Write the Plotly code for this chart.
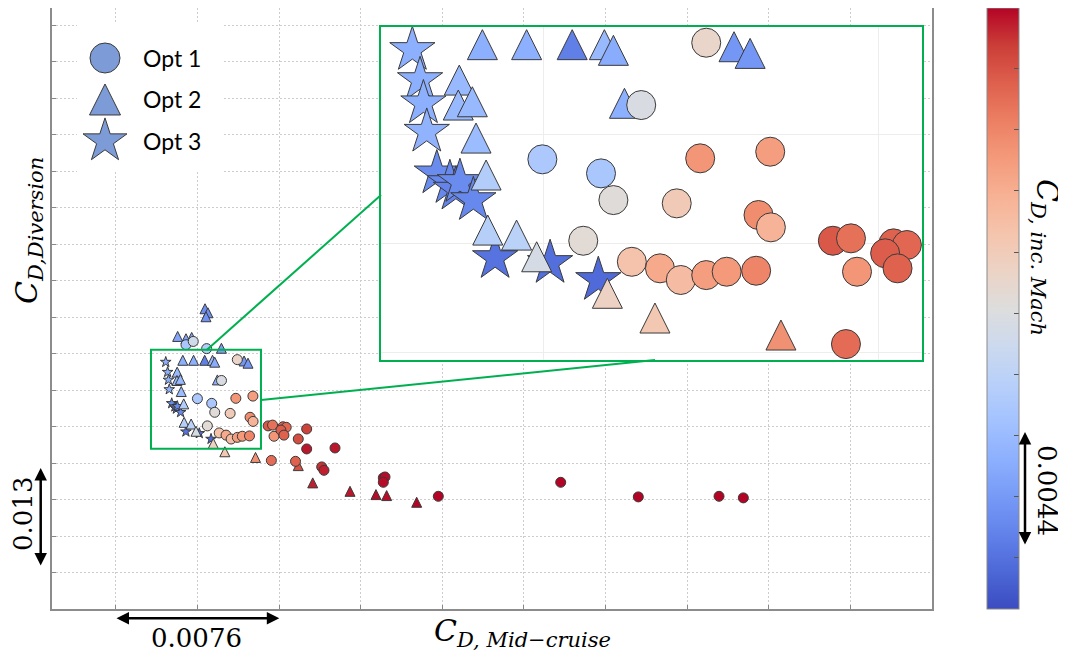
import plotly.graph_objects as go

# ---------------- data ----------------
# Positions are in grid-step units: one vertical grid step = 0.0038 in C_D,Mid-cruise,
# one horizontal grid step ~ 0.0043 in C_D,Diversion. Colour value is the normalised
# C_D,inc.Mach (0 = bottom of colour bar, 1 = top).
opt1_x = [1.293, 0.998, 1.173, 1.210, 1.120, 1.265,
          1.487, 1.469, 1.678, 1.399, 1.643, 1.680,
          1.349, 1.411, 1.487, 1.548, 1.636, 1.865, 1.919, 1.937, 2.046, 2.086, 2.021, 2.058, 1.904,
          0.858, 0.947, 1.111,
          2.337, 2.234, 2.337, 2.684, 2.200, 2.521, 2.549, 3.276, 3.297, 3.276,
          3.950, 5.450, 6.401, 7.390, 7.688]
opt1_y = [6.266, 5.768, 5.639, 5.394, 5.021, 4.828,
          6.838, 5.777, 5.838, 5.364, 5.257, 5.144,
          4.768, 4.661, 4.706, 4.737, 4.746, 5.021, 5.043, 4.737, 4.997, 4.982, 4.906, 4.768, 4.073,
          7.247, 7.337, 7.140,
          4.937, 4.663, 4.389, 4.416, 4.049, 3.896, 3.803, 3.595, 3.620, 3.474,
          3.090, 3.474, 3.074, 3.090, 3.047]
opt1_c = [0.48, 0.34, 0.33, 0.51, 0.52, 0.63,
          0.55, 0.76, 0.74, 0.60, 0.78, 0.68,
          0.71, 0.65, 0.74, 0.75, 0.80, 0.89, 0.84, 0.76, 0.87, 0.86, 0.88, 0.87, 0.85,
          0.33, 0.45, 0.36,
          0.93, 0.91, 0.98, 0.98, 0.87, 0.95, 0.97, 0.99, 0.99, 0.99,
          1.00, 1.00, 1.00, 1.00, 1.00]

opt2_x = [0.819, 0.951, 1.087, 1.183, 1.210, 0.750, 0.747, 0.789, 0.800, 0.830,
          0.835, 0.921, 0.981, 1.243, 1.192, 1.334, 1.570, 1.618, 1.710,
          1.091, 1.127, 1.103, 0.756, 0.858, 0.928, 1.292,
          2.234, 2.411, 2.868, 3.186, 3.317, 3.685]
opt2_y = [6.820, 6.820, 6.820, 6.820, 6.768, 6.495, 6.266, 6.296, 5.963, 5.624,
          5.119, 5.073, 4.874, 6.282, 4.539, 4.312, 6.801, 6.740, 4.156,
          8.233, 8.123, 8.014, 7.474, 7.411, 7.447, 7.150,
          3.932, 3.458, 3.227, 3.137, 3.110, 2.926]
opt2_c = [0.25, 0.25, 0.12, 0.28, 0.24, 0.28, 0.28, 0.28, 0.29, 0.36,
          0.37, 0.38, 0.47, 0.25, 0.57, 0.61, 0.18, 0.18, 0.77,
          0.16, 0.16, 0.17, 0.22, 0.22, 0.22, 0.20,
          0.90, 0.97, 0.98, 0.99, 0.99, 1.00]

opt3_x = [0.610, 0.633, 0.643, 0.653, 0.683, 0.722, 0.740, 0.752, 0.792, 0.857, 1.021, 1.165]
opt3_y = [6.771, 6.495, 6.282, 6.021, 5.639, 5.550, 5.490, 5.560, 5.394, 4.862, 4.817, 4.661]
opt3_c = [0.25, 0.25, 0.25, 0.26, 0.15, 0.14, 0.13, 0.15, 0.14, 0.09, 0.08, 0.07]

legend_labels = ["Opt 1", "Opt 2", "Opt 3"]

# zoom window (main axes units) and inset view range
box_x = [0.429, 1.777]
box_y = [4.397, 7.110]
inset_x = [0.5164, 2.131]
inset_y = [3.927, 6.982]

# colour-bar tick positions (normalised)
cbar_ticks = [0.085, 0.187, 0.289, 0.391, 0.492, 0.594, 0.696, 0.798, 0.899]

# ---------------- style ----------------
coolwarm = [
    [0.0, "rgb(59,76,192)"], [0.0625, "rgb(77,104,215)"], [0.125, "rgb(98,130,234)"],
    [0.1875, "rgb(119,154,247)"], [0.25, "rgb(141,176,254)"], [0.3125, "rgb(163,194,255)"],
    [0.375, "rgb(184,208,249)"], [0.4375, "rgb(204,217,238)"], [0.5, "rgb(221,221,221)"],
    [0.5625, "rgb(236,211,197)"], [0.625, "rgb(245,196,173)"], [0.6875, "rgb(247,177,148)"],
    [0.75, "rgb(244,154,123)"], [0.8125, "rgb(236,127,99)"], [0.875, "rgb(222,96,77)"],
    [0.9375, "rgb(203,62,56)"], [1.0, "rgb(180,4,38)"],
]
OFF = 8                       # page body margin of the browser
W, H = 1058, 647
ML, MR, MT, MB = 44, 134, 0, 46
PW, PH = W - ML - MR, H - MT - MB


def pxx(px):                  # page pixel -> paper x
    return (px - OFF - ML) / PW


def pxy(py):                  # page pixel -> paper y
    return (H - MB - (py - OFF)) / PH


GREEN = "#00b050"
EDGE = dict(color="#3a3a3a", width=1)
SERIF = "DejaVu Serif"

series = [
    (opt3_x, opt3_y, opt3_c, "star", 8, 34, 33),
    (opt2_x, opt2_y, opt2_c, "arrow-down", 10, 30, 31),
    (opt1_x, opt1_y, opt1_c, "circle", 10, 29, 30),
]
legend_order = ["circle", "arrow-down", "star"]


def marker(sym, size, c, showscale=False):
    m = dict(symbol=sym, size=size, color=c, colorscale=coolwarm, cmin=0, cmax=1,
             line=EDGE, opacity=1)
    if sym.startswith("arrow"):
        m.update(angle=180, standoff=size / 2)
    if showscale:
        m.update(showscale=True, colorbar=dict(
            x=pxx(987), xanchor="left", y=0.5, yanchor="middle", len=1, lenmode="fraction",
            thickness=32, thicknessmode="pixels", outlinewidth=1, outlinecolor="#8a8a8a",
            ticks="inside", ticklen=5, tickcolor="#555", showticklabels=False,
            tickmode="array", tickvals=cbar_ticks, xpad=0, ypad=0))
    return m


fig = go.Figure()
for i, (xs, ys, cs, sym, s_main, s_inset, _) in enumerate(series):
    fig.add_trace(go.Scatter(x=xs, y=ys, mode="markers", xaxis="x", yaxis="y",
                             marker=marker(sym, s_main, cs, showscale=(i == 0)),
                             showlegend=False, hoverinfo="skip"))
for xs, ys, cs, sym, s_main, s_inset, _ in series:
    fig.add_trace(go.Scatter(x=xs, y=ys, mode="markers", xaxis="x2", yaxis="y2",
                             marker=marker(sym, s_inset, cs), showlegend=False,
                             hoverinfo="skip", cliponaxis=True))

# hand-made legend (large symbols)
sym_size = {s[3]: s[6] for s in series}
for i, sym in enumerate(legend_order):
    m = dict(symbol=sym, size=sym_size[sym], color="#7d9bd7", line=EDGE)
    if sym.startswith("arrow"):
        m.update(angle=180, standoff=sym_size[sym] / 2)
    fig.add_trace(go.Scatter(x=[0], y=[i], mode="markers", xaxis="x3", yaxis="y3",
                             marker=m, showlegend=False, hoverinfo="skip"))

main_ax = dict(showgrid=True, gridcolor="#cdcdcd", griddash="2px,2px", gridwidth=1,
               dtick=1, tick0=0, showticklabels=False, ticks="inside", ticklen=4,
               tickcolor="#888", showline=True, linecolor="#8c8c8c", linewidth=1.5,
               mirror=True, zeroline=False)
inset_ax = dict(showgrid=True, gridcolor="#ededed", gridwidth=1, dtick=1, tick0=0,
                showticklabels=False, ticks="", showline=True, linecolor=GREEN,
                linewidth=2, mirror=True, zeroline=False)
leg_ax = dict(visible=False, showgrid=False, zeroline=False)

fig.update_layout(
    width=W, height=H, margin=dict(l=ML, r=MR, t=MT, b=MB, autoexpand=False),
    paper_bgcolor="white", plot_bgcolor="white",
    xaxis=dict(main_ax, domain=[0, 1], range=[-0.784, 10.0]),
    yaxis=dict(main_ax, domain=[0, 1], range=[0, 16.48]),
    xaxis2=dict(inset_ax, domain=[pxx(381), pxx(922)], range=inset_x, anchor="y2"),
    yaxis2=dict(inset_ax, domain=[pxy(360), pxy(27)], range=inset_y, anchor="x2"),
    xaxis3=dict(leg_ax, domain=[pxx(77), pxx(223)], range=[-0.8, 3.371], anchor="y3"),
    yaxis3=dict(leg_ax, domain=[pxy(172), pxy(24)], range=[2.747, -0.819], anchor="x3"),
)

shapes = [
    dict(type="rect", xref="x", yref="y", x0=box_x[0], x1=box_x[1], y0=box_y[0], y1=box_y[1],
         line=dict(color=GREEN, width=2), fillcolor="rgba(0,0,0,0)", layer="above"),
    dict(type="line", xref="paper", yref="paper", x0=pxx(206.7), y0=pxy(350),
         x1=pxx(381), y1=pxy(195), line=dict(color=GREEN, width=2), layer="above"),
    dict(type="line", xref="paper", yref="paper", x0=pxx(261), y0=pxy(400),
         x1=pxx(655), y1=pxy(360), line=dict(color=GREEN, width=2), layer="above"),
]
fig.update_layout(shapes=shapes)

ann = []
for i, lab in enumerate(legend_labels):
    ann.append(dict(x=1.02, y=i, xref="x3", yref="y3", text=lab, showarrow=False,
                    xanchor="left", yanchor="middle",
                    font=dict(family="Lato", size=23, color="black")))


def label(px, py, text, font, angle=0):
    return dict(x=pxx(px), y=pxy(py), xref="paper", yref="paper", text=text,
                textangle=angle, showarrow=False, xanchor="center", yanchor="middle",
                font=font)


title_font = dict(family=SERIF, size=30, color="black")
num_font = dict(family=SERIF, size=26, color="black")
ann += [
    label(28, 231, "<i>C<sub>D,Diversion</sub></i>", title_font, -90),
    label(522, 632, "<i>C<sub>D, Mid\u2212cruise</sub></i>", title_font),
    label(1045, 257, "<i>C<sub>D, inc. Mach</sub></i>", title_font, 90),
    label(23, 514, "0.013", num_font, -90),
    label(196, 638, "0.0076", num_font),
    label(1047, 490, "0.0044", num_font, 90),
]


def dbl_arrow(p0, p1):
    return dict(x=pxx(p1[0]), y=pxy(p1[1]), xref="paper", yref="paper", text="",
                showarrow=True, ax=p0[0] - p1[0], ay=p0[1] - p1[1], axref="pixel", ayref="pixel",
                arrowside="end+start", arrowhead=2, startarrowhead=2, arrowsize=1,
                startarrowsize=1, arrowwidth=2.5, arrowcolor="black", standoff=0, startstandoff=0)


ann += [
    dbl_arrow((40.7, 567), (40.7, 468)),
    dbl_arrow((115, 618.3), (279.3, 618.3)),
    dbl_arrow((1025, 546), (1025, 432)),
]
fig.update_layout(annotations=ann)

fig.write_html("out.html")
